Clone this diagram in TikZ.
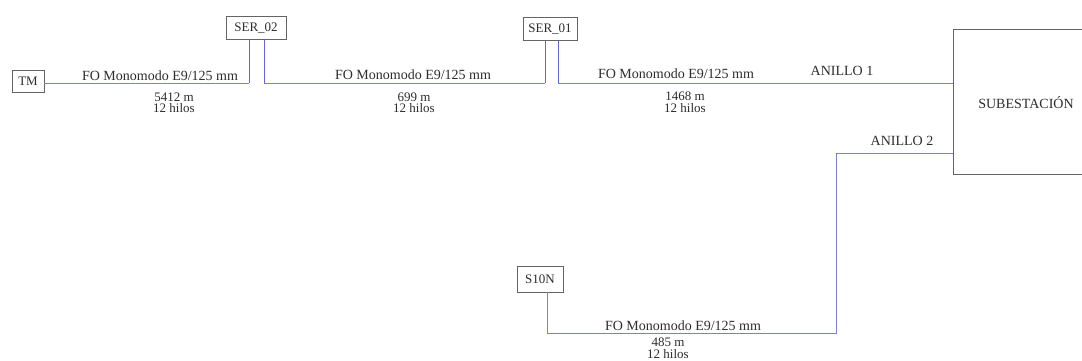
\documentclass[tikz,border=0pt]{standalone}
\usepackage{fontspec}
\setmainfont{Liberation Serif}
\definecolor{linecol}{RGB}{125,125,210}
\definecolor{vlinecol}{RGB}{100,100,215}
\definecolor{boxcol}{RGB}{100,100,100}
\definecolor{txtcol}{RGB}{45,45,45}
\tikzset{
  unitbox/.style={draw=boxcol, line width=0.9pt, inner sep=0pt, text=txtcol, font=\fontsize{13}{13}\selectfont},
  fibre/.style={draw=linecol, line width=0.9pt},
  vfibre/.style={draw=vlinecol, line width=0.9pt},
  lbl/.style={inner sep=0pt, text=txtcol, font=\fontsize{14}{14}\selectfont},
  dist/.style={inner sep=0pt, text=txtcol, align=center, font=\fontsize{13}{11.5}\selectfont},
}
\begin{document}
\begin{tikzpicture}[x=1pt,y=1pt]
\useasboundingbox (0,0) rectangle (1082,-361);
\fill[white] (0,0) rectangle (1082,-361);
\clip (0,0) rectangle (1082,-361);

% nodes
\node[unitbox, minimum width=32, minimum height=22] (TM) at (28,-81) {TM};
\node[unitbox, minimum width=60, minimum height=23] (SER02) at (256,-28) {SER\_02};
\node[unitbox, minimum width=54, minimum height=23] (SER01) at (550,-29) {SER\_01};
\node[unitbox, minimum width=46, minimum height=26] (S10N) at (540,-279) {S10N};
\node[unitbox, minimum width=160, minimum height=145, anchor=north west] (SUB) at (953,-29) {};
\node[lbl] (SUBT) at (1026,-103) {SUBESTACIÓN};

% junction points
\coordinate (a1) at (249,-83);
\coordinate (a2) at (264,-83);
\coordinate (b1) at (545,-83);
\coordinate (b2) at (558,-83);
\coordinate (c1) at (547,-333);
\coordinate (c2) at (836,-333);
\coordinate (c3) at (836,-153);

% connectors
\draw[fibre] (TM.east |- a1) -- (a1);
\draw[vfibre] (a1) -- (a1 |- SER02.south);
\draw[vfibre] (a2 |- SER02.south) -- (a2);
\draw[fibre] (a2) -- (b1);
\draw[vfibre] (b1) -- (b1 |- SER01.south);
\draw[vfibre] (b2 |- SER01.south) -- (b2);
\draw[fibre] (b2) -- (SUB.west |- b2);
\draw[fibre] (c1 |- S10N.south) -- (c1) -- (c2) -- (c3) -- (SUB.west |- c3);

% labels
\node[lbl] (l1a) at (160,-76) {FO Monomodo E9/125 mm};
\node[dist] (l1b) at (174,-103) {5412 m\\12 hilos};

\node[lbl] (l2a) at (413,-75) {FO Monomodo E9/125 mm};
\node[dist] (l2b) at (414,-103) {699 m\\12 hilos};

\node[lbl] (l3a) at (676,-74) {FO Monomodo E9/125 mm};
\node[dist] (l3b) at (685,-102) {1468 m\\12 hilos};

\node[lbl] (an1) at (842,-71) {ANILLO 1};
\node[lbl] (an2) at (902,-141) {ANILLO 2};

\node[lbl] (l4a) at (683,-326) {FO Monomodo E9/125 mm};
\node[dist] (l4b) at (668,-348) {485 m\\12 hilos};
\end{tikzpicture}
\end{document}
